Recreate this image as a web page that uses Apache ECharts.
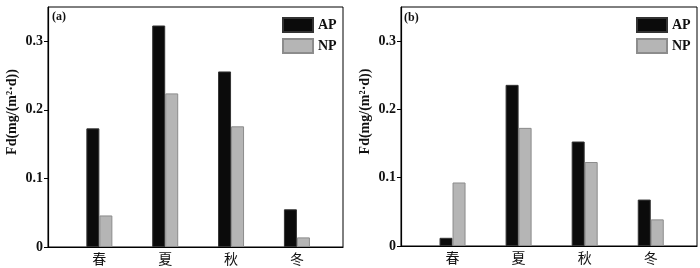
<!DOCTYPE html>
<html>
<head>
<meta charset="utf-8">
<script src="https://cdn.jsdelivr.net/npm/echarts@6/dist/echarts.min.js"></script>
<style>
  html, body { margin: 0; padding: 0; background: #fff; }
  #chart { width: 700px; height: 268px; }
</style>
</head>
<body>
<div id="chart"></div>
<script>
// 季节
const seasons = ['春', '夏', '秋', '冬'];
const seasonPos = [1, 2, 3, 4];
// (a)
const apA = [0.173, 0.323, 0.256, 0.055];
const npA = [0.046, 0.224, 0.176, 0.014];
// (b)
const apB = [0.012, 0.236, 0.153, 0.068];
const npB = [0.093, 0.173, 0.123, 0.039];
const yTicks = [0, 0.1, 0.2, 0.3];

const serif = '"Liberation Serif", "DejaVu Serif", serif';
const cjk = '"Noto Sans CJK SC", sans-serif';

function pairs(vals) {
  return vals.map((v, i) => [seasonPos[i], v]);
}

function xAxisOf(idx) {
  return {
    type: 'value',
    gridIndex: idx,
    min: 0.22,
    max: 4.7,
    splitLine: { show: false },
    axisLine: { lineStyle: { color: '#000', width: 1.2 } },
    axisTick: { show: false, customValues: seasonPos },
    axisLabel: {
      customValues: seasonPos,
      formatter: (v) => seasons[v - 1] || '',
      color: '#111',
      fontFamily: cjk,
      fontSize: 14,
      margin: 5,
    },
  };
}

function yAxisOf(idx) {
  return {
    type: 'value',
    gridIndex: idx,
    min: 0,
    max: 0.35,
    interval: 0.05,
    name: 'Fd(mg/(m²·d))',
    nameLocation: 'middle',
    nameGap: 29,
    nameTextStyle: {
      fontFamily: serif,
      fontWeight: 'bold',
      fontSize: 14,
      color: '#111',
      padding: [0, 0, 0, 30],
    },
    splitLine: { show: false },
    axisLine: { show: true, lineStyle: { color: '#000', width: 1.2 } },
    axisTick: { show: true, length: 4, inside: false, customValues: yTicks, lineStyle: { color: '#000' } },
    axisLabel: {
      customValues: yTicks,
      formatter: (v) => (v === 0 ? '0' : v.toFixed(1)),
      color: '#111',
      fontFamily: serif,
      fontWeight: 'bold',
      fontSize: 14,
      margin: 5,
    },
  };
}

function barSeries(name, vals, idx, color, border) {
  return {
    type: 'bar',
    name: name,
    xAxisIndex: idx,
    yAxisIndex: idx,
    data: pairs(vals),
    barWidth: 13,
    barGap: '0%',
    itemStyle: { color: color, borderColor: border, borderWidth: 1 },
    emphasis: { disabled: true },
  };
}

function legendOf(left) {
  return {
    data: ['AP', 'NP'],
    orient: 'vertical',
    left: left,
    top: 12,
    itemWidth: 30,
    itemHeight: 14,
    itemGap: 5,
    icon: 'rect',
    textStyle: { fontFamily: serif, fontWeight: 'bold', fontSize: 14, color: '#111' },
  };
}

const chart = echarts.init(document.getElementById('chart'), null, { renderer: 'canvas' });
chart.setOption({
  animation: false,
  backgroundColor: '#fff',
  grid: [
    { left: 48, top: 7, width: 295, height: 240, show: true, borderColor: '#000', borderWidth: 1 },
    { left: 401, top: 7, width: 296, height: 239, show: true, borderColor: '#000', borderWidth: 1 },
  ],
  xAxis: [xAxisOf(0), xAxisOf(1)],
  yAxis: [yAxisOf(0), yAxisOf(1)],
  legend: [legendOf(277), legendOf(631)],
  graphic: [
    { type: 'text', left: 52, top: 11, style: { text: '(a)', font: 'bold 12px ' + serif, fill: '#111' } },
    { type: 'text', left: 404, top: 12, style: { text: '(b)', font: 'bold 12px ' + serif, fill: '#111' } },
  ],
  series: [
    barSeries('AP', apA, 0, '#0b0b0b', '#333'),
    barSeries('NP', npA, 0, '#b5b5b5', '#8c8c8c'),
    barSeries('AP', apB, 1, '#0b0b0b', '#333'),
    barSeries('NP', npB, 1, '#b5b5b5', '#8c8c8c'),
  ],
});
</script>
</body>
</html>
